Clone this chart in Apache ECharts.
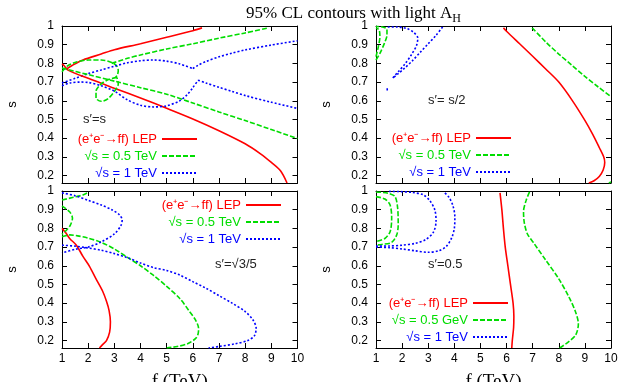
<!DOCTYPE html>
<html><head><meta charset="utf-8">
<script src="https://cdn.jsdelivr.net/npm/echarts@6/dist/echarts.min.js"></script>
<style>html,body{margin:0;padding:0;background:#fff}#c{width:627px;height:382px}</style>
</head><body><div id="c"></div><script>
// ---------- data (f in TeV, s) ----------
const xMin = 1, xMax = 10, yMin = 0.16, yMax = 1;
const yTicks = [0.2,0.3,0.4,0.5,0.6,0.7,0.8,0.9,1];
const panelLabels = ["s\u2032=s", "s\u2032= s/2", "s\u2032=\u221A3/5", "s\u2032=0.5"];
const legendLabels = {LEP:"(e\u207Ae\u207B\u2192ff) LEP", S05:"\u221As = 0.5 TeV", S05G:"\u221As = 0.5 GeV", S1:"\u221As = 1 TeV"};
const titleText = "95% CL contours with light A";
const titleSub = "H";
const xName = "f (TeV)";
const yName = "s";

// top-left: s' = s
const tlRedUpper = [[1.17,0.77],[1.4,0.79],[1.8,0.818],[2.5,0.85],[3,0.873],[4,0.905],[5,0.94],[6,0.975],[6.35,0.99]];
const tlRedLower = [[1.0,0.797],[1.1,0.785],[1.23,0.764],[2,0.72],[3,0.667],[4,0.615],[5,0.56],[6,0.503],[7,0.44],[8,0.37],[8.6,0.315],[9.0,0.27],[9.35,0.225],[9.6,0.16]];
const tlGreenLoop = [[1.0,0.755],[1.2,0.785],[1.5,0.805],[2.0,0.818],[2.5,0.818],[2.9,0.805],[3.1,0.785],[3.15,0.76],[3.12,0.74],[3.05,0.725]];
const tlGreenUpper = [[2.9,0.80],[3.5,0.827],[4,0.845],[5,0.877],[6,0.905],[7,0.935],[8,0.963],[8.9,0.99]];
const tlGreenLower = [[1,0.775],[2,0.74],[3,0.705],[4,0.67],[5,0.635],[6,0.588],[7,0.54],[8,0.494],[9,0.446],[10,0.398]];
const tlGreenEllipse = [[3.1,0.725],[2.8,0.715],[2.5,0.69],[2.3,0.65],[2.3,0.615],[2.5,0.597],[2.75,0.61],[3.0,0.65],[3.15,0.69],[3.1,0.725]];
const tlBlueUpperA = [[1.0,0.695],[1.5,0.72],[2.0,0.745],[2.5,0.765],[3.0,0.785],[3.5,0.803],[4.0,0.814],[4.5,0.818],[5.0,0.812],[5.5,0.797],[6.0,0.772]];
const tlBlueUpperB = [[6.0,0.772],[6.2,0.79],[6.5,0.81],[7,0.835],[7.5,0.855],[8,0.872],[9,0.898],[10,0.921]];
const tlBlueLowerA = [[1.0,0.68],[1.3,0.695],[1.7,0.70],[2.0,0.698],[2.5,0.68],[3.0,0.652],[3.5,0.605],[4.0,0.576],[4.5,0.567],[5.0,0.573],[5.5,0.6],[5.8,0.635],[6.0,0.67],[6.2,0.71]];
const tlBlueLowerB = [[6.2,0.71],[6.5,0.695],[7,0.672],[7.5,0.65],[8,0.628],[9,0.592],[10,0.559]];

// top-right: s' = s/2
const trRed = [[5.88,0.99],[6.0,0.972],[6.5,0.905],[7,0.838],[7.5,0.77],[8,0.7],[8.5,0.605],[9,0.495],[9.3,0.42],[9.55,0.35],[9.72,0.30],[9.76,0.27],[9.7,0.23],[9.55,0.195],[9.35,0.172],[9.15,0.16]];
const trGreen = [[6.98,0.99],[7.5,0.915],[8,0.85],[8.5,0.79],[9,0.73],[9.5,0.675],[10,0.622]];
const trGreenCorner = [[9.92,0.16],[10,0.166]];
const trGreenOuter = [[1.0,0.818],[1.15,0.854],[1.32,0.907],[1.42,0.952],[1.42,0.982],[1.25,0.995],[1.0,0.997]];
const trGreenInner = [[1.0,0.836],[1.09,0.89],[1.15,0.943],[1.12,0.978],[1.0,0.99]];
const trBlueA = [[1.45,0.995],[1.8,0.995],[2.2,0.985],[2.45,0.965],[2.6,0.935],[2.55,0.895],[2.35,0.845],[2.1,0.795],[1.85,0.755],[1.68,0.728],[1.62,0.718]];
const trBlueB = [[3.55,0.995],[3.3,0.95],[3.0,0.905],[2.7,0.86],[2.4,0.815],[2.1,0.775],[1.85,0.745],[1.68,0.725]];
const trBlueDot = [[1.43,0.655],[1.43,0.668]];

// bottom-left: s' = sqrt(3/5)
const blRed = [[1.0,0.80],[1.15,0.775],[1.3,0.745],[1.55,0.71],[1.8,0.65],[2.05,0.597],[2.3,0.53],[2.55,0.465],[2.7,0.41],[2.8,0.36],[2.85,0.30],[2.82,0.245],[2.7,0.2],[2.55,0.178],[2.43,0.16]];
const blGreenTop = [[1.0,0.952],[1.4,0.965],[1.8,0.979],[2.03,0.995]];
const blGreenBulge = [[1.0,0.92],[1.29,0.889],[1.4,0.854],[1.32,0.818],[1.17,0.79],[1.0,0.768]];
const blGreenBig = [[1.0,0.755],[1.3,0.765],[1.6,0.76],[2.0,0.748],[2.5,0.725],[3.0,0.69],[3.5,0.645],[4.0,0.6],[4.5,0.548],[5.0,0.49],[5.5,0.425],[5.85,0.36],[6.1,0.31],[6.22,0.265],[6.2,0.235],[6.1,0.21],[5.8,0.183],[5.4,0.168],[5.0,0.16]];
const blBlueC = [[1.0,0.99],[1.5,0.975],[2.0,0.95],[2.5,0.925],[2.9,0.9],[3.2,0.872],[3.3,0.845],[3.25,0.815],[3.0,0.77],[2.5,0.728],[2.0,0.7],[1.5,0.688],[1.0,0.668]];
const blBlueLong = [[1.0,0.71],[1.5,0.705],[2.0,0.695],[2.5,0.683],[3.0,0.665],[3.5,0.643],[4.0,0.615],[4.5,0.59],[5.0,0.575],[5.5,0.55],[6.0,0.515],[6.5,0.48],[7.0,0.44],[7.5,0.4],[8.0,0.355],[8.3,0.31],[8.42,0.265],[8.35,0.225],[8.1,0.2],[7.6,0.182],[7.0,0.168],[6.6,0.16]];

// bottom-right: s' = 0.5
const brRed = [[5.75,0.99],[5.82,0.9],[5.88,0.8],[5.95,0.7],[6.05,0.6],[6.15,0.5],[6.25,0.4],[6.28,0.33],[6.27,0.27],[6.22,0.2],[6.2,0.16]];
const brGreenBig = [[6.88,0.995],[6.75,0.95],[6.65,0.89],[6.68,0.83],[6.8,0.77],[7.05,0.72],[7.5,0.63],[8.0,0.53],[8.4,0.43],[8.65,0.35],[8.75,0.29],[8.65,0.23],[8.35,0.19],[8.03,0.16]];
const brGreenOuter = [[1,0.995],[1.47,0.988],[1.73,0.97],[1.83,0.907],[1.85,0.818],[1.79,0.764],[1.6,0.725],[1.22,0.714],[1,0.711]];
const brGreenInner = [[1,0.97],[1.34,0.957],[1.54,0.925],[1.6,0.854],[1.54,0.782],[1.34,0.746],[1,0.729]];
const brBlueOuter = [[1,0.70],[1.5,0.697],[2.0,0.69],[2.5,0.68],[3.0,0.672],[3.4,0.68],[3.7,0.705],[3.9,0.75],[4.0,0.8],[4.02,0.86],[3.95,0.92],[3.8,0.965],[3.6,0.995]];
const brBlueInner = [[1.0,0.706],[1.5,0.706],[2.0,0.71],[2.5,0.72],[2.9,0.74],[3.2,0.78],[3.3,0.84],[3.25,0.9],[3.05,0.95],[2.8,0.98],[2.4,0.992],[1.9,0.997],[1.5,0.998]];

// ---------- styling ----------
const SANS = '"Liberation Sans", Arial, Helvetica, sans-serif';
const SERIF = '"Liberation Serif", "Times New Roman", serif';
const STYLE = {
  red:   {color:'#ff0000', width:1.6, type:'solid'},
  green: {color:'#00dd00', width:1.6, type:[5,2]},
  blue:  {color:'#0000ff', width:1.6, type:[2,2]}
};
const grids = [
  {left:62, top:26, width:235.5, height:157},
  {left:376, top:26, width:235, height:157},
  {left:62, top:191, width:235.5, height:157},
  {left:376, top:191, width:235, height:157}
];

const series = [];
function add(g, name, style, data) {
  const st = STYLE[style];
  series.push({
    type:'line', name:name, xAxisIndex:g*2, yAxisIndex:g*2, data:data,
    symbol:'none', smooth:0.3, silent:true, animation:false, clip:true,
    lineStyle:{color:st.color, width:st.width, type:st.type},
    itemStyle:{color:st.color}
  });
}
// panel 0
add(0,'LEP','red',tlRedUpper); add(0,'S05','green',tlGreenLoop); add(0,'S1','blue',tlBlueUpperA);
add(0,'LEP','red',tlRedLower);
add(0,'S05','green',tlGreenUpper); add(0,'S05','green',tlGreenLower); add(0,'S05','green',tlGreenEllipse);
add(0,'S1','blue',tlBlueUpperB); add(0,'S1','blue',tlBlueLowerA); add(0,'S1','blue',tlBlueLowerB);
// panel 1
add(1,'LEP','red',trRed); add(1,'S05','green',trGreen); add(1,'S05','green',trGreenCorner);
add(1,'S05','green',trGreenOuter); add(1,'S05','green',trGreenInner);
add(1,'S1','blue',trBlueA); add(1,'S1','blue',trBlueB); add(1,'S1','blue',trBlueDot);
// panel 2
add(2,'LEP','red',blRed); add(2,'S05','green',blGreenTop); add(2,'S05','green',blGreenBulge); add(2,'S05','green',blGreenBig);
add(2,'S1','blue',blBlueC); add(2,'S1','blue',blBlueLong);
// panel 3
add(3,'LEP','red',brRed); add(3,'S05G','green',brGreenBig); add(3,'S05G','green',brGreenOuter); add(3,'S05G','green',brGreenInner);
add(3,'S1','blue',brBlueOuter); add(3,'S1','blue',brBlueInner);

const axLine = {show:true, lineStyle:{color:'#000', width:1}};
const xAxes = [], yAxes = [];
grids.forEach((gr, g) => {
  const bottomRow = g >= 2;
  xAxes.push({type:'value', gridIndex:g, position:'bottom', min:xMin, max:xMax, interval:1,
    axisLine:axLine, splitLine:{show:false},
    axisTick:{show:true, inside:true, length:5, lineStyle:{color:'#000'}},
    axisLabel:{show:bottomRow, color:'#000', fontFamily:SANS, fontSize:12, margin:5},
    name: bottomRow ? xName : '', nameLocation:'middle', nameGap:25, nameMoveOverlap:false,
    nameTextStyle:{fontFamily:SERIF, fontSize:19, color:'#000'}});
  xAxes.push({type:'value', gridIndex:g, position:'top', min:xMin, max:xMax, interval:1,
    axisLine:axLine, splitLine:{show:false},
    axisTick:{show:true, inside:true, length:5, lineStyle:{color:'#000'}},
    axisLabel:{show:false}});
  yAxes.push({type:'value', gridIndex:g, position:'left', min:yMin, max:yMax,
    axisLine:axLine, splitLine:{show:false},
    axisTick:{show:true, inside:true, length:5, customValues:yTicks, lineStyle:{color:'#000'}},
    axisLabel:{color:'#000', fontFamily:SANS, fontSize:12, margin:8, customValues:yTicks},
    name:yName, nameLocation:'middle', nameGap:43, nameRotate:90, nameMoveOverlap:false,
    nameTextStyle:{fontFamily:SANS, fontSize:13, color:'#000'}});
  yAxes.push({type:'value', gridIndex:g, position:'right', min:yMin, max:yMax,
    axisLine:axLine, splitLine:{show:false},
    axisTick:{show:true, inside:true, length:5, customValues:yTicks, lineStyle:{color:'#000'}},
    axisLabel:{show:false}});
});

function legendFor(names, right, top) {
  return {
    orient:'vertical', align:'right', right:right, top:top, padding:0,
    itemWidth:35, itemHeight:12, itemGap:3, selectedMode:false,
    itemStyle:{opacity:0},
    formatter:(n)=>legendLabels[n],
    textStyle:{fontFamily:SANS, fontSize:13, lineHeight:14},
    data: names.map(n => ({name:n, textStyle:{color: n==='LEP' ? STYLE.red.color : (n==='S1' ? STYLE.blue.color : STYLE.green.color)}}))
  };
}
const legends = [
  legendFor(['LEP','S05','S1'], 429, 132),
  legendFor(['LEP','S05','S1'], 115, 131),
  legendFor(['LEP','S05','S1'], 345, 198),
  legendFor(['LEP','S05G','S1'], 118, 296)
];

const labelStyle = {fontFamily:SANS, fontSize:13, fontWeight:'normal', color:'#222'};
const titles = [
  {text:'{m|' + titleText + '}{sub|' + titleSub + '}', left:246, top:5, padding:0,
   textStyle:{fontFamily:SERIF, fontSize:17, fontWeight:'normal', color:'#000',
     rich:{m:{fontFamily:SERIF, fontSize:17, color:'#000', lineHeight:20, verticalAlign:'top'},
           sub:{fontFamily:SERIF, fontSize:12, color:'#000', lineHeight:14, verticalAlign:'bottom'}}}},
  {text:panelLabels[0], left:83, top:113, padding:0, textStyle:labelStyle},
  {text:panelLabels[1], left:428, top:94, padding:0, textStyle:labelStyle},
  {text:panelLabels[2], left:215, top:258, padding:0, textStyle:labelStyle},
  {text:panelLabels[3], left:428, top:258, padding:0, textStyle:labelStyle}
];

const chart = echarts.init(document.getElementById('c'), null, {renderer:'canvas'});
chart.setOption({
  backgroundColor:'#fff', animation:false,
  title:titles, legend:legends,
  grid:grids.map(g => Object.assign({containLabel:false, outerBoundsMode:'none'}, g)),
  xAxis:xAxes, yAxis:yAxes, series:series
});
</script></body></html>
